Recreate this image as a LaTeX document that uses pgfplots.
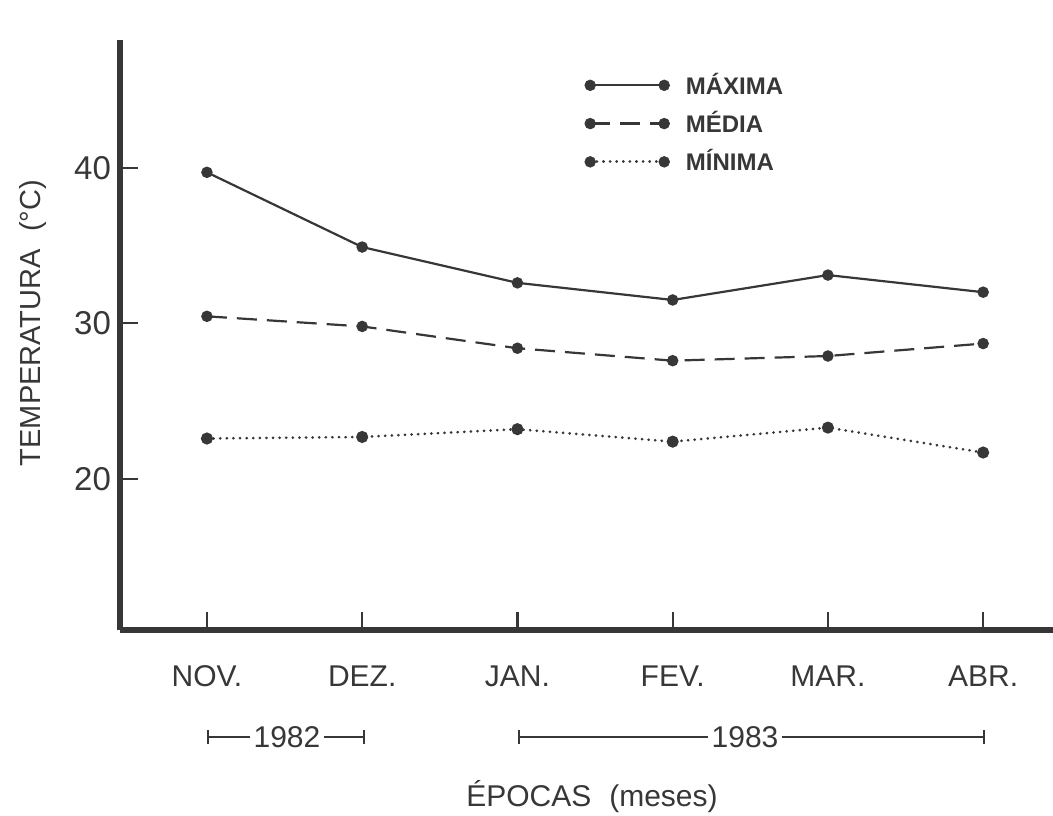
\documentclass[border=0pt]{standalone}
\usepackage{fontspec}
\setmainfont{Liberation Sans}
\usepackage{pgfplots}
\pgfplotsset{compat=1.18}
\usetikzlibrary{arrows.meta}
\definecolor{ink}{RGB}{55,55,55}
\pgfplotsset{mylegend/.style={legend image code/.code={\draw[##1,mark=none] (0pt,0pt) -- (37pt,0pt);
   \draw[solid, fill=ink, draw=ink, line width=0.3pt] (0pt,0pt) circle (2.7pt) (37pt,0pt) circle (2.7pt);}}}
\begin{document}
\begin{tikzpicture}
\path[use as bounding box] (-60pt,-92.5pt) rectangle (466.5pt,315pt);
\begin{axis}[
  at={(0pt,0pt)}, anchor=south west,
  scale only axis, width=466.5pt, height=295pt,
  xmin=-0.56, xmax=5.45, ymin=10.3, ymax=48.2,
  axis lines*=left,
  axis line style={line width=3pt, color=ink},
  xtick={0,1,2,3,4,5},
  xticklabels={NOV.,DEZ.,JAN.,FEV.,MAR.,ABR.},
  ytick={20,30,40},
  tick align=inside, major tick length=9pt,
  tick style={line width=1.1pt, color=ink},
  /pgf/number format/assume math mode=true,
  xticklabel style={font=\fontsize{15}{17}\selectfont, text=ink, anchor=base, yshift=-28pt},
  yticklabel style={font=\fontsize{16.5}{18}\selectfont, text=ink, xshift=-1pt},
  clip=false,
  legend style={at={(rel axis cs:0.491,0.958)}, anchor=north west,
    draw=none, fill=none, font=\bfseries\fontsize{12}{14}\selectfont,
    text=ink, row sep=3pt, column sep=6pt},
  legend cell align=left,
  every axis plot/.append style={color=ink, line width=1.1pt, mark=*, mark size=2.3pt,
     mark options={solid, fill=ink}},
]
\addplot[solid, mylegend]
  coordinates {(0,39.7) (1,34.9) (2,32.6) (3,31.5) (4,33.1) (5,32.0)};
\addlegendentry{MÁXIMA}
\addplot[dash pattern=on 10pt off 5pt, mylegend]
  coordinates {(0,30.45) (1,29.8) (2,28.4) (3,27.6) (4,27.9) (5,28.7)};
\addlegendentry{MÉDIA}
\addplot[line cap=round, dash pattern=on 0.1pt off 3.2pt, line width=1.4pt, mylegend]
  coordinates {(0,22.6) (1,22.7) (2,23.2) (3,22.4) (4,23.3) (5,21.7)};
\addlegendentry{MÍNIMA}
\end{axis}
\node[rotate=90, text=ink, font=\fontsize{14.5}{16}\selectfont] at (-43.5pt,153.5pt) {TEMPERATURA\hspace{0.6em}(°C)};
\draw[ink, line width=0.9pt, {Bar[width=7pt]}-{Bar[width=7pt]}] (43.5pt,-53.5pt) -- (122.5pt,-53.5pt);
\node[fill=white, inner sep=2pt, text=ink, font=\fontsize{15}{17}\selectfont] at (83.5pt,-53.5pt) {1982};
\draw[ink, line width=0.9pt, {Bar[width=7pt]}-{Bar[width=7pt]}] (199pt,-53.5pt) -- (432.5pt,-53.5pt);
\node[fill=white, inner sep=2pt, text=ink, font=\fontsize{15}{17}\selectfont] at (312.5pt,-53.5pt) {1983};
\node[text=ink, font=\fontsize{15}{17}\selectfont] at (236pt,-83.5pt) {ÉPOCAS\hspace{0.6em}(meses)};
\end{tikzpicture}
\end{document}
